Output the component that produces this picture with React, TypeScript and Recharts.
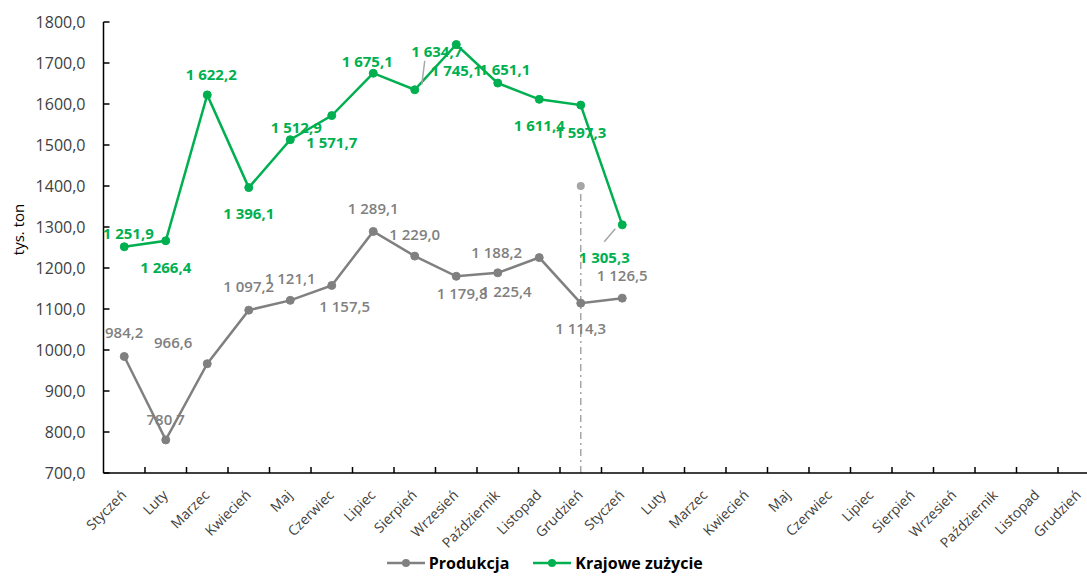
import React from 'react';
import {
  LineChart,
  Line,
  XAxis,
  YAxis,
  Legend,
  LabelList,
  ReferenceLine,
  ReferenceDot,
} from 'recharts';

const months = [
  'Styczeń', 'Luty', 'Marzec', 'Kwiecień', 'Maj', 'Czerwiec', 'Lipiec', 'Sierpień',
  'Wrzesień', 'Październik', 'Listopad', 'Grudzień',
  'Styczeń', 'Luty', 'Marzec', 'Kwiecień', 'Maj', 'Czerwiec', 'Lipiec', 'Sierpień',
  'Wrzesień', 'Październik', 'Listopad', 'Grudzień',
];

const produkcja = [984.2, 780.7, 966.6, 1097.2, 1121.1, 1157.5, 1289.1, 1229.0, 1179.8, 1188.2, 1225.4, 1114.3, 1126.5];
const krajoweZuzycie = [1251.9, 1266.4, 1622.2, 1396.1, 1512.9, 1571.7, 1675.1, 1634.7, 1745.1, 1651.1, 1611.4, 1597.3, 1305.3];

const yTicks = [700, 800, 900, 1000, 1100, 1200, 1300, 1400, 1500, 1600, 1700, 1800];

// marker for the year boundary
const separatorIndex = 11;
const separatorTop = 1400;

// label placement, offsets from each point (Excel put them by hand)
const prodLabelPos = [
  [0, -24], [0, -21], [-34, -22], [0, -24], [0, -22], [13, 21], [0, -23],
  [0, -22], [6, 17], [-1, -21], [-33, 33], [0, 25], [0, -23],
];
const krajLabelPos = [
  [4, -14], [0, 26], [4, -21], [0, 25], [6, -13], [0, 26], [-6, -12],
  [22, -39], [0, 25], [7, -14], [0, 26], [0, 27], [-18, 32],
];
const krajLeaders = [7, 12];

const GRAY = '#808080';
const GREEN = '#00B050';
const FONT = '"Open Sans", sans-serif';

// the original plot runs a little past the right edge of the picture
const VIEW_W = 1087;
const PLOT_LEFT = 103.5;
const BAND = 41.5;
const CHART_W = PLOT_LEFT + BAND * months.length + 1;
const X_LABEL_GAP = 23;

const data = months.map((m, i) => ({
  i,
  month: m,
  prod: i < produkcja.length ? produkcja[i] : null,
  kraj: i < krajoweZuzycie.length ? krajoweZuzycie[i] : null,
}));

const fmt = (v: number) => {
  const [int, dec] = v.toFixed(1).split('.');
  const withSpace = int.length > 3 ? int.slice(0, int.length - 3) + ' ' + int.slice(-3) : int;
  return withSpace + ',' + dec;
};

const makeLabel = (pos: number[][], color: string, weight: number, leaders: number[] = []) =>
  (props: any) => {
    const { x, y, value, index } = props;
    if (value == null) return null;
    const [dx, dy] = pos[index] || [0, -20];
    const lx = x + dx;
    const ly = y + dy;
    return (
      <g>
        {leaders.includes(index) && (
          <line
            x1={x + Math.sign(dx) * 4 + (dy < 0 ? 3 : -3)}
            y1={y + (dy < 0 ? -5 : 4)}
            x2={lx + (dx > 0 ? -12 : 0)}
            y2={ly + (dy < 0 ? 10 : -15)}
            stroke="#A6A6A6"
            strokeWidth={1.5}
          />
        )}
        <text
          x={lx}
          y={ly}
          textAnchor="middle"
          dominantBaseline="central"
          fill={color}
          fontSize={15}
          fontWeight={weight}
          fontFamily={FONT}
        >
          {fmt(value)}
        </text>
      </g>
    );
  };

// category label plus the tick mark on the boundary to its right
const XTick = (props: any) => {
  const { x, y, payload } = props;
  const axisY = y - X_LABEL_GAP;
  const tx = x + 3;
  return (
    <g>
      <line x1={x + BAND / 2} y1={axisY} x2={x + BAND / 2} y2={axisY - 6} stroke="#000" strokeWidth={1.5} />
      <text
        x={tx}
        y={y}
        transform={`rotate(-45, ${tx}, ${y})`}
        textAnchor="end"
        fill="#404040"
        fontSize={14}
        fontFamily={FONT}
      >
        {months[payload.value]}
      </text>
    </g>
  );
};

const renderLegend = () => (
  <div
    style={{
      display: 'flex',
      justifyContent: 'center',
      alignItems: 'center',
      gap: 24,
      fontFamily: FONT,
      fontSize: 16,
      lineHeight: '20px',
      fontWeight: 700,
      color: '#000',
      paddingLeft: 0,
      paddingRight: 10,
      paddingTop: 10,
    }}
  >
    {[
      { name: 'Produkcja', color: GRAY },
      { name: 'Krajowe zużycie', color: GREEN },
    ].map((it) => (
      <div key={it.name} style={{ display: 'flex', alignItems: 'center', gap: 4 }}>
        <svg width={38} height={10}>
          <line x1={0} y1={5} x2={38} y2={5} stroke={it.color} strokeWidth={2.5} />
          <circle cx={19} cy={5} r={4} fill={it.color} />
        </svg>
        <span>{it.name}</span>
      </div>
    ))}
  </div>
);

export default function App() {
  return (
    <div
      style={{
        position: 'absolute',
        left: 0,
        top: 0,
        width: VIEW_W,
        height: 577,
        overflow: 'hidden',
        background: '#fff',
      }}
    >
      <LineChart
        width={CHART_W}
        height={577}
        data={data}
        margin={{ top: 22, right: 1, bottom: 0, left: 0 }}
      >
        <XAxis
          dataKey="i"
          type="category"
          interval={0}
          height={70}
          padding={{ left: BAND / 2, right: BAND / 2 }}
          tick={<XTick />}
          tickSize={0}
          tickMargin={X_LABEL_GAP}
          tickLine={false}
          axisLine={{ stroke: '#000', strokeWidth: 1.5 }}
        />
        <YAxis
          domain={[700, 1800]}
          ticks={yTicks}
          width={PLOT_LEFT}
          interval={0}
          tickSize={-6}
          tickMargin={24}
          tickFormatter={(v: number) => v.toFixed(1).replace('.', ',')}
          tick={{ fill: '#404040', fontSize: 16, fontFamily: FONT }}
          tickLine={{ stroke: '#000', strokeWidth: 1.5 }}
          axisLine={{ stroke: '#000', strokeWidth: 1.5 }}
          label={{
            content: (p: any) => {
              const vb = p.viewBox;
              const cx = 18;
              const cy = vb.y + vb.height / 2 - 18;
              return (
                <text
                  x={cx}
                  y={cy}
                  transform={`rotate(-90, ${cx}, ${cy})`}
                  textAnchor="middle"
                  dominantBaseline="central"
                  fill="#000"
                  fontSize={15}
                  fontFamily={FONT}
                >
                  tys. ton
                </text>
              );
            },
          }}
        />
        <ReferenceLine
          segment={[
            { x: separatorIndex, y: 700 },
            { x: separatorIndex, y: separatorTop },
          ]}
          stroke="#A6A6A6"
          strokeWidth={1.5}
          strokeDasharray="7 4 2 4"
        />
        <ReferenceDot x={separatorIndex} y={separatorTop} r={4} fill="#A6A6A6" stroke="none" />
        <Legend verticalAlign="bottom" height={34} content={renderLegend} />
        <Line
          type="linear"
          dataKey="prod"
          name="Produkcja"
          stroke={GRAY}
          strokeWidth={2.5}
          dot={{ r: 4, fill: GRAY, stroke: GRAY, strokeWidth: 1 }}
          connectNulls={false}
          isAnimationActive={false}
        >
          <LabelList dataKey="prod" content={makeLabel(prodLabelPos, GRAY, 600)} />
        </Line>
        <Line
          type="linear"
          dataKey="kraj"
          name="Krajowe zużycie"
          stroke={GREEN}
          strokeWidth={2.5}
          dot={{ r: 4, fill: GREEN, stroke: GREEN, strokeWidth: 1 }}
          connectNulls={false}
          isAnimationActive={false}
        >
          <LabelList dataKey="kraj" content={makeLabel(krajLabelPos, GREEN, 700, krajLeaders)} />
        </Line>
      </LineChart>
    </div>
  );
}
